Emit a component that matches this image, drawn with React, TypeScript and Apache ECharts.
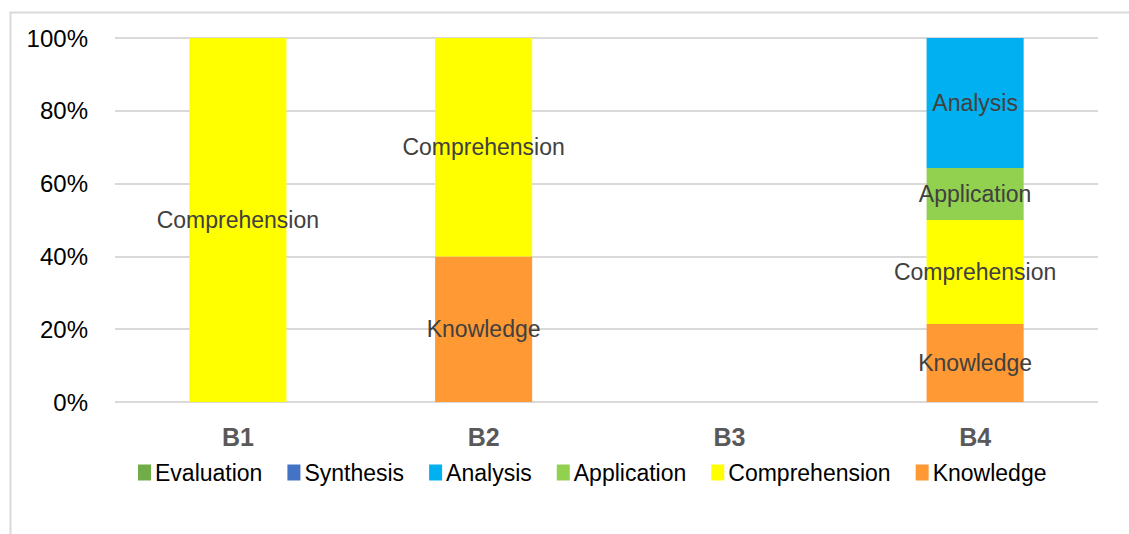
import React, { useEffect, useRef } from "react";
import * as echarts from "echarts";

const categories = ["B1", "B2", "B3", "B4"];
const seriesNames = ["Evaluation", "Synthesis", "Analysis", "Application", "Comprehension", "Knowledge"];
const knowledge = [null, 40, null, 21.4];
const comprehension = [100, 60, null, 28.6];
const application = [null, null, null, 14.3];
const analysis = [null, null, null, 35.7];
const synthesis = [null, null, null, null];
const evaluation = [null, null, null, null];
const yTicks = [0, 20, 40, 60, 80, 100];

const colors: Record<string, string> = {
  Evaluation: "#70AD47",
  Synthesis: "#4472C4",
  Analysis: "#00B0F0",
  Application: "#92D050",
  Comprehension: "#FFFF00",
  Knowledge: "#FF9933",
};

const FONT = "'Liberation Sans', Arial, sans-serif";

export default function App() {
  const ref = useRef<HTMLDivElement>(null);
  useEffect(() => {
    if (!ref.current) return;
    const chart = echarts.init(ref.current, undefined, { renderer: "svg" });
    const dataMap: Record<string, (number | null)[]> = {
      Knowledge: knowledge,
      Comprehension: comprehension,
      Application: application,
      Analysis: analysis,
      Synthesis: synthesis,
      Evaluation: evaluation,
    };
    const stackOrder = ["Knowledge", "Comprehension", "Application", "Analysis", "Synthesis", "Evaluation"];
    chart.setOption({
      animation: false,
      backgroundColor: "#fff",
      graphic: [
        {
          type: "rect",
          shape: { x: 10.5, y: 12.5, width: 1140, height: 560 },
          style: { fill: "none", stroke: "#d9d9d9", lineWidth: 2 },
          silent: true,
        },
      ],
      grid: { left: 115, right: 31, top: 38, bottom: 132, containLabel: false },
      legend: {
        data: seriesNames,
        left: 133,
        top: 456,
        icon: "rect",
        itemWidth: 13,
        itemHeight: 16,
        itemGap: 25,
        textStyle: { fontFamily: FONT, fontSize: 23, color: "#000", padding: [0, 0, 0, -1] },
      },
      xAxis: {
        type: "category",
        data: categories,
        axisLine: { show: false },
        axisTick: { show: false },
        axisLabel: { fontFamily: FONT, fontSize: 25, fontWeight: "bold", color: "#595959", margin: 22 },
      },
      yAxis: {
        type: "value",
        min: 0,
        max: 100,
        interval: 20,
        axisLine: { show: false },
        axisTick: { show: false },
        splitLine: { lineStyle: { color: "#d9d9d9", width: 2 } },
        axisLabel: {
          fontFamily: FONT,
          fontSize: 24,
          color: "#000",
          margin: 27,
          formatter: (v: number) => (yTicks.includes(v) ? v + "%" : ""),
        },
      },
      series: stackOrder.map((name) => ({
        name,
        type: "bar",
        stack: "total",
        barWidth: "39.5%",
        data: dataMap[name],
        itemStyle: { color: colors[name] },
        label: {
          show: true,
          position: "inside",
          formatter: (p: any) => (p.value ? name : ""),
          fontFamily: FONT,
          fontSize: 23,
          color: "#404040",
        },
      })),
    });
    return () => chart.dispose();
  }, []);
  return (
    <div
      ref={ref}
      style={{ position: "fixed", left: 0, top: 0, width: 1129, height: 534, background: "#fff" }}
    />
  );
}
